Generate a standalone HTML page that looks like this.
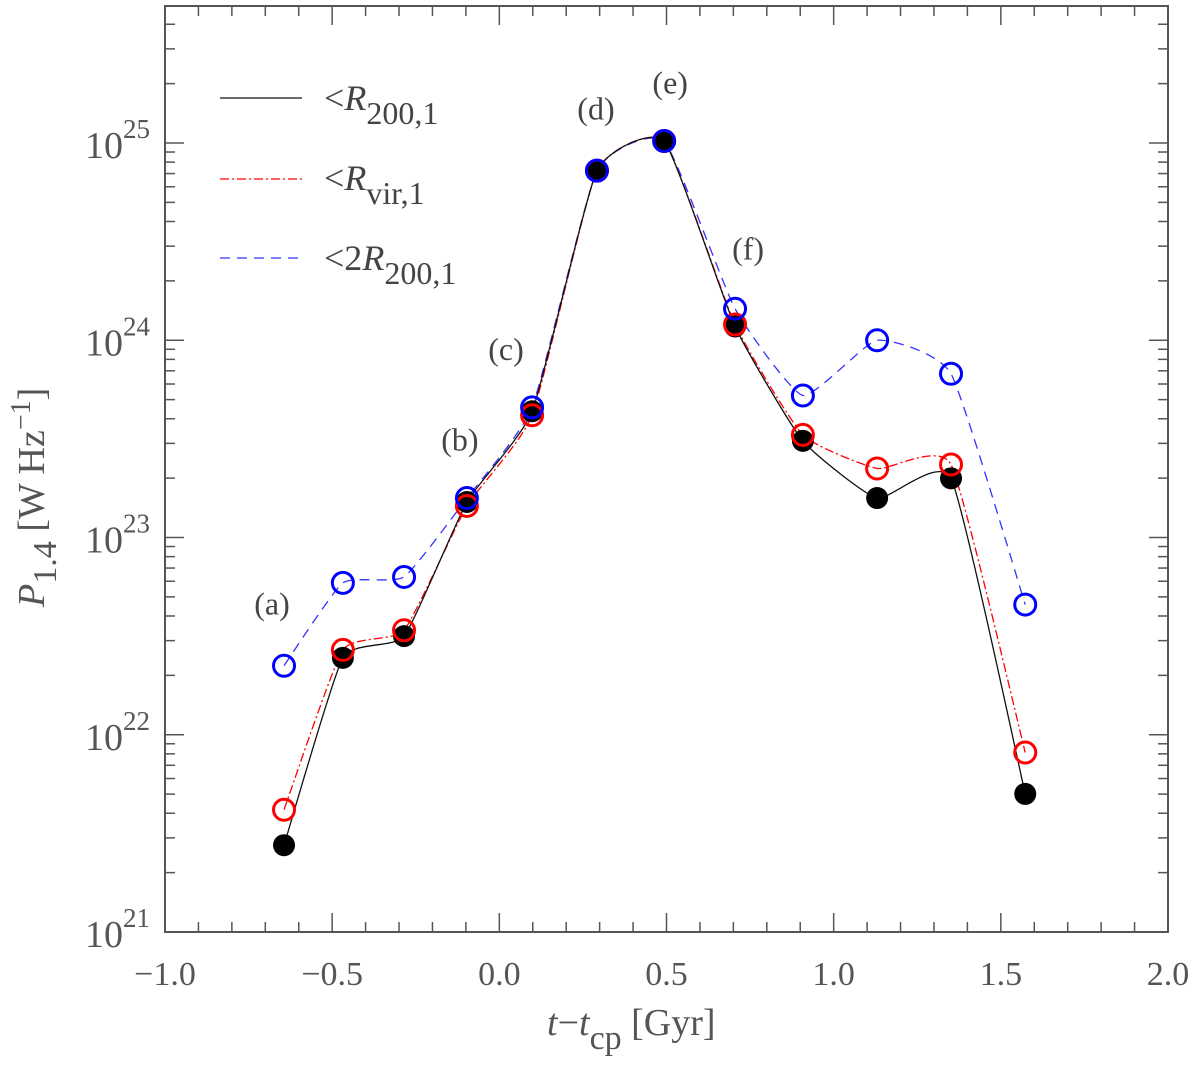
<!DOCTYPE html>
<html><head><meta charset="utf-8"><style>
html,body{margin:0;padding:0;background:#fff;}
svg{display:block;font-family:"Liberation Serif",serif;}
</style></head><body>
<svg id="chart" width="1200" height="1072" viewBox="0 0 1200 1072" xmlns="http://www.w3.org/2000/svg">
<g id="ticks" stroke="#555" stroke-width="1.5"></g>
<rect x="165" y="6" width="1003" height="926" fill="none" stroke="#555" stroke-width="2"/>
<g id="ylabels" fill="#555" font-size="38"></g>
<g id="xlabels" fill="#555" font-size="34"></g>
<g id="series"></g>
<g id="annot" fill="#444" font-size="32"></g>
<g fill="#444" font-size="36">
<line x1="220" y1="98" x2="302" y2="98" stroke="#111" stroke-width="1.3"/>
<text x="324" y="110">&lt;<tspan font-style="italic">R</tspan><tspan font-size="32" dy="14">200,1</tspan></text>
<line x1="220" y1="179" x2="302" y2="179" stroke="#f00" stroke-width="1.3" stroke-dasharray="9,3,2,3"/>
<text x="324" y="190">&lt;<tspan font-style="italic">R</tspan><tspan font-size="32" dy="14">vir,1</tspan></text>
<line x1="220" y1="258" x2="302" y2="258" stroke="#33f" stroke-width="1.3" stroke-dasharray="10,7"/>
<text x="324" y="270">&lt;2<tspan font-style="italic">R</tspan><tspan font-size="32" dy="14">200,1</tspan></text>
</g>
<text x="547" y="1035" fill="#555" font-size="38"><tspan font-style="italic">t</tspan>−<tspan font-style="italic">t</tspan><tspan font-size="34" dy="14">cp</tspan><tspan dy="-14"> [Gyr]</tspan></text>
<text transform="translate(44,607) rotate(-90)" fill="#555" font-size="38"><tspan font-style="italic">P</tspan><tspan font-size="34" dy="12">1.4</tspan><tspan dy="-12"> [W Hz</tspan><tspan font-size="28" dy="-14">−1</tspan><tspan dy="14">]</tspan></text>
</svg>
<script>
const times = [-0.644,-0.468,-0.285,-0.097,0.098,0.292,0.493,0.705,0.908,1.13,1.351,1.573];
const logR200 = [21.44,22.39,22.50,23.18,23.64,24.86,25.01,24.07,23.49,23.20,23.30,21.70];
const logRvir = [21.62,22.43,22.53,23.16,23.62,24.86,25.01,24.08,23.52,23.35,23.37,21.91];
const log2R200 = [22.35,22.77,22.80,23.20,23.66,24.86,25.01,24.16,23.72,24.00,23.83,22.66];
const xTickLabels = ["−1.0","−0.5","0.0","0.5","1.0","1.5","2.0"];
const yDecades = [21,22,23,24,25];
const annLabels = ["(a)","(b)","(c)","(d)","(e)","(f)"];
const annTime = [-0.68,-0.118,0.02,0.289,0.511,0.744];
const annLog = [22.61,23.44,23.90,25.12,25.25,24.41];

const NS="http://www.w3.org/2000/svg";
const L=165,R=1168,T=6,B=932;
const xs=v=>L+(v+1)*(R-L)/3;
const ys=v=>143+(25-v)*197.25;
function mk(tag,attrs,parent){const e=document.createElementNS(NS,tag);for(const k in attrs)e.setAttribute(k,attrs[k]);parent.appendChild(e);return e;}
const ticks=document.getElementById('ticks');
for(let i=0;i<=30;i++){const v=-1+i*0.1;const x=xs(v);const len=(i%5===0)?19:10;
 let t=mk('line',{x1:x,y1:B,x2:x,y2:B-len},ticks);
 t=mk('line',{x1:x,y1:T,x2:x,y2:T+len},ticks);}
for(let d=21;d<=25;d++){for(let m=1;m<=9;m++){const lv=d+Math.log10(m);const y=ys(lv);if(y<T||y>B)continue;const len=m===1?19:10;
 let t=mk('line',{x1:L,y1:y,x2:L+len,y2:y},ticks);
 t=mk('line',{x1:R,y1:y,x2:R-len,y2:y},ticks);}}
const yl=document.getElementById('ylabels');
yDecades.forEach(d=>{const y=ys(d);const t=mk('text',{x:150,y:y+15,'text-anchor':'end'},yl);
 
 t.innerHTML='10<tspan font-size="27" dy="-20">'+d+'</tspan>';});
const xl=document.getElementById('xlabels');
xTickLabels.forEach((s,i)=>{const t=mk('text',{x:xs(-1+i*0.5),y:985,'text-anchor':'middle'},xl);
 t.textContent=s;});
function pathFor(vals){const p=times.map((t,i)=>[xs(t),ys(vals[i])]);let d='M'+p[0][0]+','+p[0][1];
 for(let i=0;i<p.length-1;i++){const p0=p[Math.max(0,i-1)],p1=p[i],p2=p[i+1],p3=p[Math.min(p.length-1,i+2)];const k=0.08;
  d+=' C'+(p1[0]+(p2[0]-p0[0])*k)+','+(p1[1]+(p2[1]-p0[1])*k)+' '+(p2[0]-(p3[0]-p1[0])*k)+','+(p2[1]-(p3[1]-p1[1])*k)+' '+p2[0]+','+p2[1];}
 return d;}
const ser=document.getElementById('series');
const defs=[[log2R200,'#33f','10,7','series-2r200'],[logRvir,'#f00','9,3,2,3','series-rvir'],[logR200,'#111','none','series-r200']];
defs.forEach(([vals,col,dash,name])=>{const l=mk('path',{d:pathFor(vals),fill:'none',stroke:col,'stroke-width':1.3,'stroke-dasharray':dash},ser);
 });
[[logR200,'#000',true,'r200'],[logRvir,'#f00',false,'rvir'],[log2R200,'#00f',false,'2r200']].forEach(([vals,col,fill,name])=>{
 times.forEach((t,i)=>{const c=mk('circle',{cx:xs(t),cy:ys(vals[i]),r:fill?11:10.5,fill:fill?col:'none',stroke:col,'stroke-width':fill?0:3},ser);
  });});
const an=document.getElementById('annot');
annLabels.forEach((s,j)=>{const t=mk('text',{x:xs(annTime[j]),y:ys(annLog[j]),'text-anchor':'middle'},an);
 t.textContent=s;});
</script>
</body></html>
